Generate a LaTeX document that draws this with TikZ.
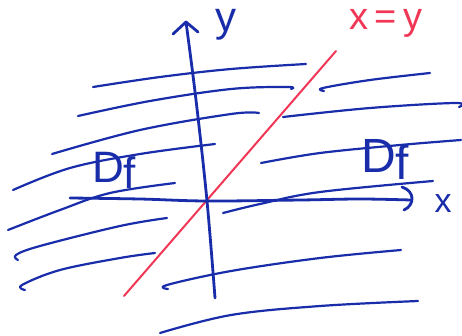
\documentclass[tikz,border=0pt]{standalone}
\usepackage{fontspec}
\setmainfont{Liberation Sans}
\definecolor{inkblue}{RGB}{25,45,170}
\definecolor{inkred}{RGB}{240,55,85}
\begin{document}
\begin{tikzpicture}[x=1pt,y=-1pt,
  hatch/.style={inkblue, line width=2.2pt, line cap=round, line join=round},
  axis/.style={inkblue, line width=2.8pt, line cap=round, line join=round},
  diag/.style={inkred, line width=2pt, line cap=round},
  lbl/.style={inkblue, inner sep=0pt},
  rlbl/.style={inkred, inner sep=0pt}]
\useasboundingbox (0,0) rectangle (462,335);
\fill[white] (0,0) rectangle (462,335);
% hatching, left of the diagonal
\draw[hatch] plot[smooth, tension=0.6] coordinates {(93,87) (160,77) (231,69) (306,64)};
\draw[hatch] plot[smooth, tension=0.6] coordinates {(78,116) (150,101) (231,89) (288,87) (291,89)};
\draw[hatch] plot[smooth, tension=0.6] coordinates {(52,154) (140,130) (231,114) (259,113)};
\draw[hatch] plot[smooth, tension=0.6] coordinates {(13,190) (70,168) (140,154) (215,144)};
\draw[hatch] plot[smooth, tension=0.6] coordinates {(8,230) (60,210) (110,193) (175,183)};
\draw[hatch] plot[smooth, tension=0.6] coordinates {(18,260) (16,255) (40,246) (120,226) (167,218)};
\draw[hatch] plot[smooth, tension=0.6] coordinates {(25,290) (22,285) (60,270) (120,258) (155,253)};
% hatching, right of the diagonal
\draw[hatch] plot[smooth, tension=0.6] coordinates {(324,91) (323,88) (370,80) (430,73)};
\draw[hatch] plot[smooth, tension=0.6] coordinates {(283,117) (370,108) (455,103) (459,107)};
\draw[hatch] plot[smooth, tension=0.6] coordinates {(261,163) (320,153) (400,145) (461,140)};
\draw[hatch] plot[smooth, tension=0.6] coordinates {(223,213) (260,204) (320,192) (433,181)};
\draw[hatch] plot[smooth, tension=0.6] coordinates {(168,289) (167,285) (231,271) (320,258) (401,250)};
\draw[hatch] plot[smooth, tension=0.6] coordinates {(160,333) (231,315) (320,306) (418,301)};
% diagonal x = y
\coordinate (ra) at (124,296);
\coordinate (rb) at (336,51);
\draw[diag] (ra) -- (rb);
% axes
\coordinate (O) at (207,201);
\coordinate (yb) at (215,298);
\coordinate (ytip) at (186,22);
\coordinate (yl) at (173,34);
\coordinate (yr) at (198,32);
\draw[axis] plot[smooth, tension=0.6] coordinates {(yb) (O) (196,100) (ytip)};
\draw[axis] (yl) -- (ytip) -- (yr);
\coordinate (xs) at (70,198);
\coordinate (xe) at (411,200);
\coordinate (xa) at (402,187);
\coordinate (xb) at (404,210);
\draw[axis] plot[smooth, tension=0.6] coordinates {(xs) (140,199) (O) (300,200) (360,199) (xe)};
\draw[axis] (xa) .. controls (415,191) and (415,205) .. (xb);
% labels
\node[lbl, font=\fontsize{42}{42}\selectfont] (ylab) at (226,25) {y};
\node[lbl, font=\fontsize{34}{34}\selectfont] (xlab) at (443,204) {x};
\node[rlbl, font=\fontsize{38}{38}\selectfont] (diaglab) at (386,23) {x\,=\,y};
\node[lbl, font=\fontsize{44}{44}\selectfont] (dfl) at (114,170) {D\raisebox{-6pt}{f}};
\node[lbl, font=\fontsize{48}{48}\selectfont] (dfr) at (385,159) {D\raisebox{-7pt}{f}};
\end{tikzpicture}
\end{document}
